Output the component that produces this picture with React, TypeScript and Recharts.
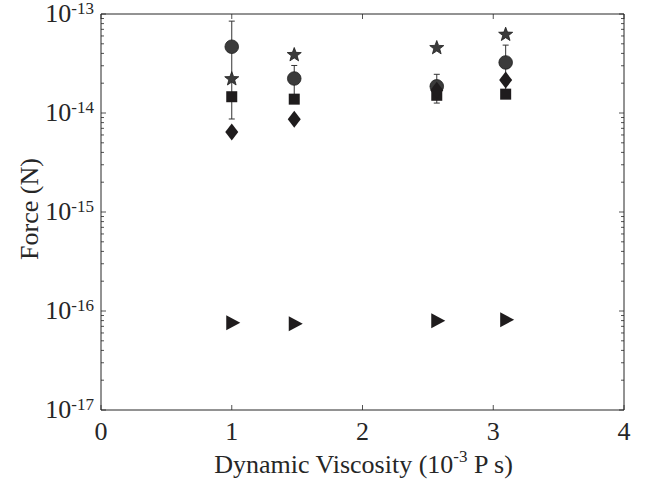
import React from "react";
import {
  ScatterChart,
  Scatter,
  XAxis,
  YAxis,
  ErrorBar,
  ReferenceArea,
} from "recharts";

// viscosity in 10^-3 P s, force in N
const viscosity = [1.0, 1.478, 2.568, 3.095];
const circleForce = [4.67e-14, 2.23e-14, 1.86e-14, 3.24e-14];
const circleError = [3.8e-14, 0.79e-14, 0.6e-14, 1.61e-14];
const starForce = [2.23e-14, 3.91e-14, 4.6e-14, 6.27e-14];
const squareForce = [1.46e-14, 1.38e-14, 1.51e-14, 1.55e-14];
const diamondForce = [6.43e-15, 8.65e-15, 1.7e-14, 2.15e-14];
const triangleForce = [7.6e-17, 7.43e-17, 7.96e-17, 8.15e-17];

const xTicks = [0, 1, 2, 3, 4];
const yDecades = [-17, -16, -15, -14, -13];
const minorSteps = [2, 3, 4, 5, 6, 7, 8, 9];

const W = 646;
const H = 487;
const PLOT_LEFT = 101;
const PLOT_RIGHT = 624;
const PLOT_TOP = 14;
const PLOT_BOTTOM = 410;

const INK = "#262626";
const FONT = '"Liberation Serif", "Times New Roman", serif';
const FS = 26;
const SUP = 17;

const yTicks: number[] = [];
yDecades.forEach((d, i) => {
  yTicks.push(Math.pow(10, d));
  if (i < yDecades.length - 1) minorSteps.forEach((m) => yTicks.push(m * Math.pow(10, d)));
});

const toPoints = (ys: number[], errs?: number[]) =>
  viscosity.map((x, i) => ({ x, y: ys[i], err: errs ? errs[i] : 0 }));

const circleData = toPoints(circleForce, circleError);
const starData = toPoints(starForce);
const squareData = toPoints(squareForce);
const diamondData = toPoints(diamondForce);
const triangleData = toPoints(triangleForce);

const YTick = (props: any) => {
  const { x, y, payload } = props;
  const v = payload.value as number;
  const exp = Math.round(Math.log10(v));
  const major = Math.abs(v - Math.pow(10, exp)) < v * 1e-6;
  const len = major ? 5 : 3;
  return (
    <g>
      <line x1={x} x2={x + len} y1={y} y2={y} stroke={INK} strokeWidth={0.8} />
      <line x1={PLOT_RIGHT} x2={PLOT_RIGHT - len} y1={y} y2={y} stroke={INK} strokeWidth={0.8} />
      {major && (
        <text x={x - 7} y={y + 8} textAnchor="end" fontFamily={FONT} fontSize={FS} fill={INK}>
          10
          <tspan dy={-8} fontSize={SUP}>
            {String(exp)}
          </tspan>
        </text>
      )}
    </g>
  );
};

const XTick = (props: any) => {
  const { x, y, payload } = props;
  return (
    <g>
      <line x1={x} x2={x} y1={y} y2={y - 5} stroke={INK} strokeWidth={0.8} />
      <line x1={x} x2={x} y1={PLOT_TOP} y2={PLOT_TOP + 5} stroke={INK} strokeWidth={0.8} />
      <text x={x} y={y + 30} textAnchor="middle" fontFamily={FONT} fontSize={FS} fill={INK}>
        {payload.value}
      </text>
    </g>
  );
};

const XTitle = (props: any) => {
  const vb = props.viewBox || {};
  const cx = vb.x + vb.width / 2 + 1;
  return (
    <text x={cx} y={473} textAnchor="middle" fontFamily={FONT} fontSize={FS} fill={INK}>
      Dynamic Viscosity (10
      <tspan dy={-11} fontSize={SUP}>
        -3
      </tspan>
      <tspan dy={11}> P s)</tspan>
    </text>
  );
};

const YTitle = (props: any) => {
  const vb = props.viewBox || {};
  const cy = vb.y + vb.height / 2 - 3;
  return (
    <text
      x={38}
      y={cy}
      transform={`rotate(-90, 38, ${cy})`}
      textAnchor="middle"
      fontFamily={FONT}
      fontSize={FS}
      fill={INK}
    >
      Force (N)
    </text>
  );
};

const CircleMark = (p: any) => (
  <circle cx={p.cx} cy={p.cy} r={6.8} fill="#3b3b3b" stroke="#1e1e1e" strokeWidth={0.8} />
);

const StarMark = (p: any) => {
  const pts: string[] = [];
  for (let i = 0; i < 10; i++) {
    const r = i % 2 === 0 ? 7.4 : 3.1;
    const a = -Math.PI / 2 + (i * Math.PI) / 5;
    pts.push(`${p.cx + r * Math.cos(a)},${p.cy + 0.5 + r * Math.sin(a)}`);
  }
  return <polygon points={pts.join(" ")} fill="#3b3b3b" stroke="#1e1e1e" strokeWidth={0.8} />;
};

const SquareMark = (p: any) => (
  <rect x={p.cx - 5.5} y={p.cy - 5.5} width={11} height={11} fill="#1f1c1d" />
);

const DiamondMark = (p: any) => (
  <polygon
    points={`${p.cx},${p.cy - 8.5} ${p.cx + 6.5},${p.cy} ${p.cx},${p.cy + 8.5} ${p.cx - 6.5},${p.cy}`}
    fill="#1f1c1d"
  />
);

const TriangleMark = (p: any) => (
  <polygon
    points={`${p.cx - 5.5},${p.cy - 7.5} ${p.cx + 8.5},${p.cy} ${p.cx - 5.5},${p.cy + 7.5}`}
    fill="#1f1c1d"
  />
);

export default function App() {
  return (
    <div style={{ position: "absolute", left: 0, top: 0, width: W, height: H, background: "#fff" }}>
      <ScatterChart
        width={W}
        height={H}
        margin={{ top: PLOT_TOP, right: W - PLOT_RIGHT, bottom: 0, left: 0 }}
      >
        <XAxis
          type="number"
          dataKey="x"
          domain={[0, 4]}
          ticks={xTicks}
          height={H - PLOT_BOTTOM}
          axisLine={false}
          tickLine={false}
          tickSize={0}
          tickMargin={0}
          interval={0}
          tick={<XTick />}
          label={<XTitle />}
        />
        <YAxis
          type="number"
          dataKey="y"
          scale="log"
          domain={[1e-17, 1e-13]}
          allowDataOverflow
          ticks={yTicks}
          width={PLOT_LEFT}
          axisLine={false}
          tickLine={false}
          tickSize={0}
          tickMargin={0}
          interval={0}
          tick={<YTick />}
          label={<YTitle />}
        />
        <ReferenceArea
          x1={0}
          x2={4}
          y1={1e-17}
          y2={1e-13}
          fill="none"
          fillOpacity={0}
          stroke={INK}
          strokeWidth={1}
          ifOverflow="visible"
        />
        <Scatter data={circleData} isAnimationActive={false} shape={<CircleMark />}>
          <ErrorBar dataKey="err" direction="y" width={3} stroke="#333" strokeWidth={1} />
        </Scatter>
        <Scatter data={squareData} isAnimationActive={false} shape={<SquareMark />} />
        <Scatter data={diamondData} isAnimationActive={false} shape={<DiamondMark />} />
        <Scatter data={starData} isAnimationActive={false} shape={<StarMark />} />
        <Scatter data={triangleData} isAnimationActive={false} shape={<TriangleMark />} />
      </ScatterChart>
    </div>
  );
}
